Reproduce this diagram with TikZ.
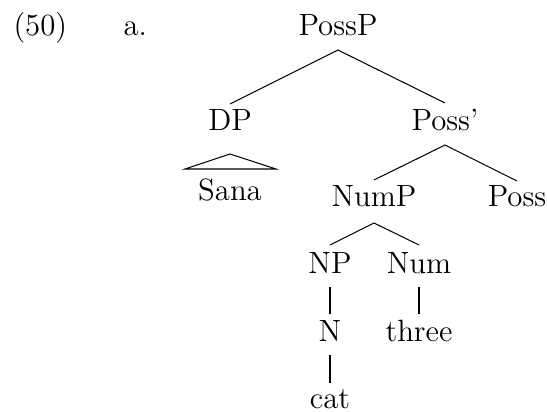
\documentclass[tikz,border=0pt]{standalone}
\begin{document}
\begin{tikzpicture}[x=0.39pt,y=-0.39pt,
  lbl/.style={inner sep=0pt,anchor=base,font=\fontsize{12}{14}\selectfont},
  branch/.style={line width=0.4pt}]
\useasboundingbox (0,0) rectangle (547,411);
% example number and sub-label
\node[lbl,anchor=base west] (num) at (13,36) {(50)};
\node[lbl,anchor=base west] (sub) at (123,36) {a.};
% tree labels
\node[lbl] (possp) at (338,36) {PossP};
\node[lbl] (dp) at (230,130) {DP};
\node[lbl] (possbar) at (445,130) {Poss'};
\node[lbl] (sana) at (230,200) {Sana};
\node[lbl] (nump) at (374,206) {NumP};
\node[lbl] (poss) at (517,206) {Poss};
\node[lbl] (np) at (330,273) {NP};
\node[lbl] (numh) at (419,273) {Num};
\node[lbl] (n) at (330,341) {N};
\node[lbl] (three) at (419,341) {three};
\node[lbl] (cat) at (330,408) {cat};
% branch end points
\coordinate (possp-b) at (338,50);
\coordinate (dp-t) at (230,104);
\coordinate (possbar-t) at (445,103);
\coordinate (possbar-b) at (445,145);
\coordinate (nump-t) at (374,180);
\coordinate (poss-t) at (517,181);
\coordinate (nump-b) at (374,223);
\coordinate (np-t) at (330,245);
\coordinate (numh-t) at (419,245);
\coordinate (np-b) at (330,287);
\coordinate (n-t) at (330,314);
\coordinate (numh-b) at (419,287);
\coordinate (three-t) at (419,314);
\coordinate (n-b) at (330,355);
\coordinate (cat-t) at (330,383);
\coordinate (tri-a) at (230,154);
\coordinate (tri-l) at (185,169);
\coordinate (tri-r) at (276,169);
% branches
\draw[branch] (dp-t) -- (possp-b) -- (possbar-t);
\draw[branch] (nump-t) -- (possbar-b) -- (poss-t);
\draw[branch] (np-t) -- (nump-b) -- (numh-t);
\draw[branch] (np-b) -- (n-t);
\draw[branch] (n-b) -- (cat-t);
\draw[branch] (numh-b) -- (three-t);
% roof over the DP
\draw[branch] (tri-a) -- (tri-l) -- (tri-r) -- cycle;
\end{tikzpicture}
\end{document}
